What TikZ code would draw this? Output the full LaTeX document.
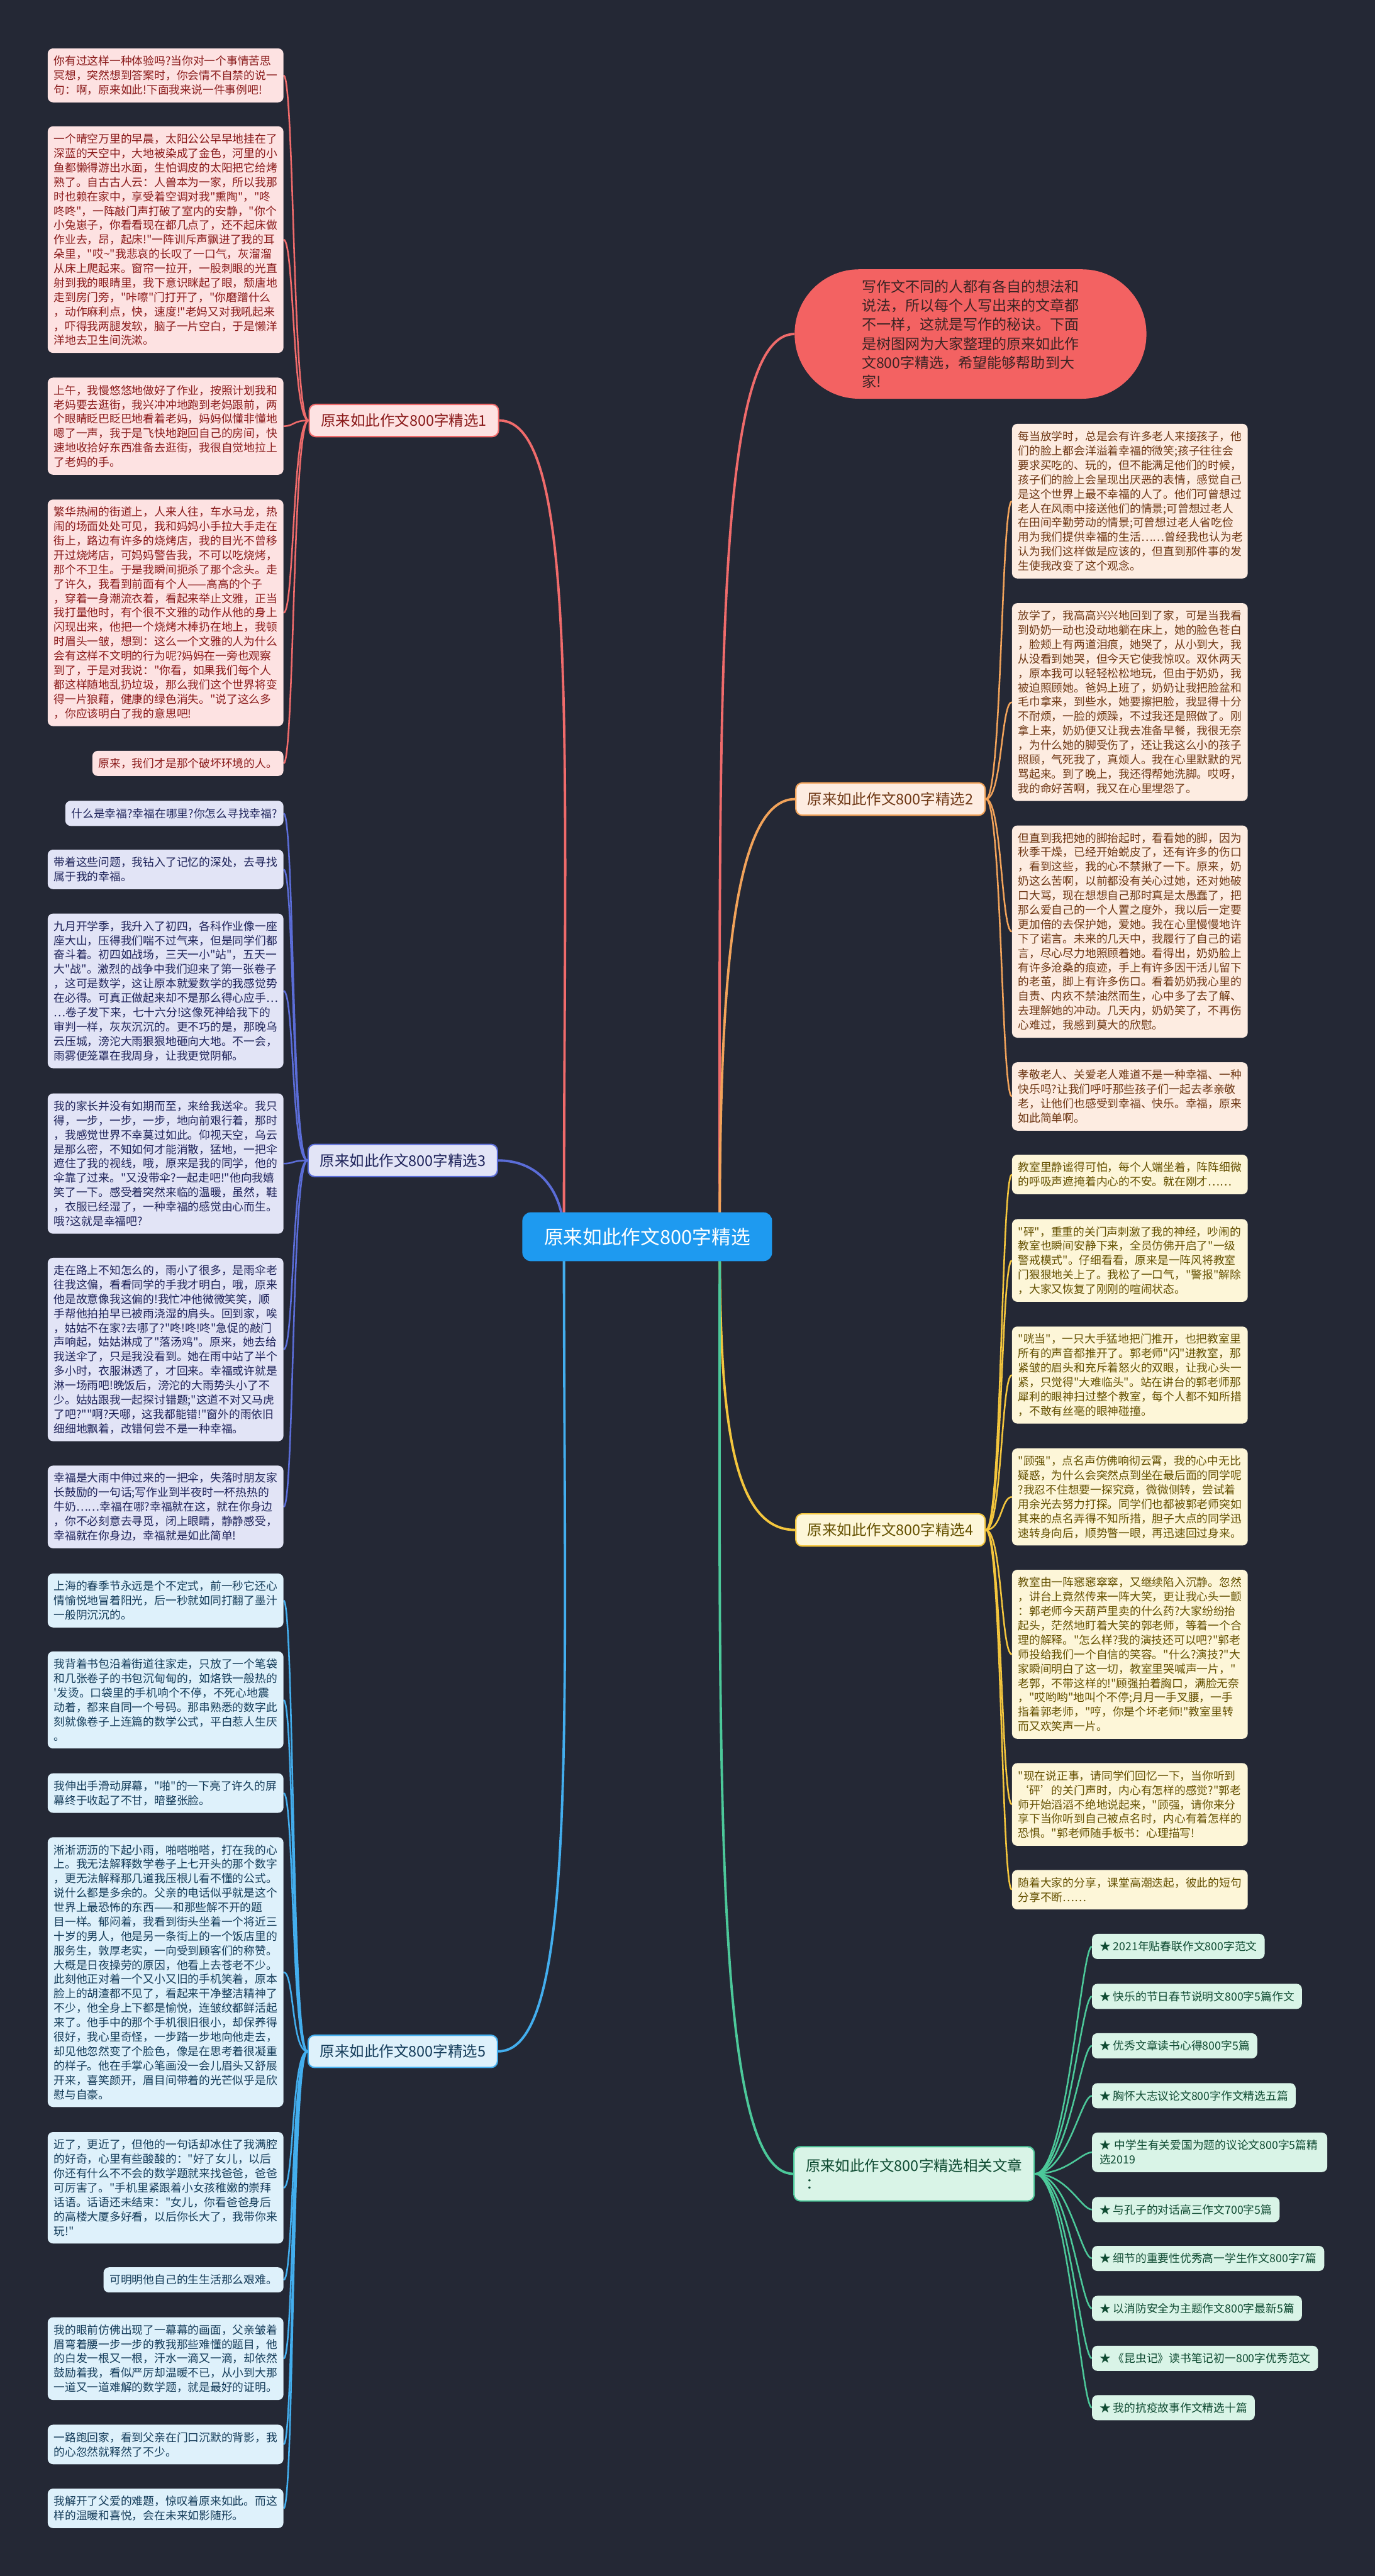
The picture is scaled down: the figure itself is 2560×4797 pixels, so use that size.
\documentclass[tikz,border=0pt]{standalone}
\usepackage{fontspec}
\setmainfont{Noto Sans CJK SC}[Ligatures=TeXOff]
\pgfdeclarelayer{bg}
\pgfdeclarelayer{edges}
\pgfsetlayers{bg,edges,main}
\newcommand\leaffont{\fontsize{20.8}{26.8}\selectfont}
\newcommand\brfont{\fontsize{27.5}{33}\selectfont}
\definecolor{bgc}{HTML}{242835}
\definecolor{ctrc}{HTML}{1E9AF0}
\definecolor{pillc}{HTML}{F36262}
\definecolor{pilltx}{HTML}{3C2424}
\definecolor{lnR}{HTML}{F06B6B}\definecolor{fR}{HTML}{FDE2E2}\definecolor{tR}{HTML}{8A1A1A}
\definecolor{lnO}{HTML}{F2A35A}\definecolor{fO}{HTML}{FDECE1}\definecolor{tO}{HTML}{6E3714}
\definecolor{lnI}{HTML}{5B6DD8}\definecolor{fI}{HTML}{E2E4F6}\definecolor{tI}{HTML}{1E235A}
\definecolor{lnY}{HTML}{F4C63D}\definecolor{fY}{HTML}{FDF6D8}\definecolor{tY}{HTML}{645000}
\definecolor{lnB}{HTML}{43AEEE}\definecolor{fB}{HTML}{DEF1FB}\definecolor{tB}{HTML}{143C5A}
\definecolor{lnG}{HTML}{4CC99A}\definecolor{fG}{HTML}{D9F4E7}\definecolor{tG}{HTML}{0F4B32}
\tikzset{
  lf/.style={rounded corners=10pt, inner xsep=11.5pt, inner ysep=0pt, align=left, font=\leaffont, minimum height={#1*26.8+20}},
  wide/.style={text width=416pt},
  cR/.style={fill=fR, text=tR}, cO/.style={fill=fO, text=tO}, cI/.style={fill=fI, text=tI},
  cY/.style={fill=fY, text=tY}, cB/.style={fill=fB, text=tB}, cG/.style={fill=fG, text=tG},
  conn/.style={line width=3pt},
  trunk/.style={line width=4.5pt},
  brnode/.style={rounded corners=12pt, line width=2.5pt, inner xsep=22pt, minimum height=60pt, font=\brfont},
  ln/.style={anchor=north east},
  rn/.style={anchor=north west},
}
\begin{document}
\begin{tikzpicture}[x=1pt,y=-1pt]
\useasboundingbox (0,0) rectangle (2560,4797);
\begin{pgfonlayer}{bg}
\fill[bgc] (0,0) rectangle (2560,4797);
\end{pgfonlayer}

% center and summary
\node[fill=ctrc, text=white, rounded corners=16pt, minimum width=465pt, minimum height=91pt, font=\fontsize{36}{42}\selectfont] (ctr) at (1205,2303) {原来如此作文800字精选};
\node[fill=pillc, text=pilltx, rounded corners=120pt, minimum width=655pt, minimum height=241pt, text width=405pt, align=left, font=\fontsize{27}{35.4}\selectfont] (pill) at (1807,622) {写作文不同的人都有各自的想法和\\说法，所以每个人写出来的文章都\\不一样，这就是写作的秘诀。下面\\是树图网为大家整理的原来如此作\\文800字精选，希望能够帮助到大\\家!};
\coordinate (cl) at (1050,2303);
\coordinate (cr) at (1340,2303);

% branch nodes
\node[brnode, draw=lnR, fill=fR, text=tR] (b1) at (752,783) {原来如此作文800字精选1};
\node[brnode, draw=lnO, fill=fO, text=tO] (b2) at (1658,1488) {原来如此作文800字精选2};
\node[brnode, draw=lnI, fill=fI, text=tI] (b3) at (750,2161) {原来如此作文800字精选3};
\node[brnode, draw=lnY, fill=fY, text=tY] (b4) at (1658,2849) {原来如此作文800字精选4};
\node[brnode, draw=lnB, fill=fB, text=tB] (b5) at (750,3820) {原来如此作文800字精选5};
\node[brnode, draw=lnG, fill=fG, text=tG, align=left, minimum height=101pt, anchor=west] (rel) at (1477,4048) {原来如此作文800字精选相关文章\\：};

% branch 1 leaves
\node[lf=3, wide, cR, ln] (A) at (528,90) {你有过这样一种体验吗?当你对一个事情苦思\\冥想，突然想到答案时，你会情不自禁的说一\\句：啊，原来如此!下面我来说一件事例吧!};
\node[lf=15, wide, cR, ln] (B) at (528,235) {一个晴空万里的早晨，太阳公公早早地挂在了\\深蓝的天空中，大地被染成了金色，河里的小\\鱼都懒得游出水面，生怕调皮的太阳把它给烤\\熟了。自古古人云：人兽本为一家，所以我那\\时也赖在家中，享受着空调对我"熏陶"，"咚\\咚咚"，一阵敲门声打破了室内的安静，"你个\\小兔崽子，你看看现在都几点了，还不起床做\\作业去，昂，起床!"一阵训斥声飘进了我的耳\\朵里，"哎\char`\~"我悲哀的长叹了一口气，灰溜溜\\从床上爬起来。窗帘一拉开，一股刺眼的光直\\射到我的眼睛里，我下意识眯起了眼，颓唐地\\走到房门旁，"咔嚓"门打开了，"你磨蹭什么\\，动作麻利点，快，速度!"老妈又对我吼起来\\，吓得我两腿发软，脑子一片空白，于是懒洋\\洋地去卫生间洗漱。};
\node[lf=6, wide, cR, ln] (C) at (528,703) {上午，我慢悠悠地做好了作业，按照计划我和\\老妈要去逛街，我兴冲冲地跑到老妈跟前，两\\个眼睛眨巴眨巴地看着老妈，妈妈似懂非懂地\\嗯了一声，我于是飞快地跑回自己的房间，快\\速地收拾好东西准备去逛街，我很自觉地拉上\\了老妈的手。};
\node[lf=15, wide, cR, ln] (D) at (528,930) {繁华热闹的街道上，人来人往，车水马龙，热\\闹的场面处处可见，我和妈妈小手拉大手走在\\街上，路边有许多的烧烤店，我的目光不曾移\\开过烧烤店，可妈妈警告我，不可以吃烧烤，\\那个不卫生。于是我瞬间扼杀了那个念头。走\\了许久，我看到前面有个人——高高的个子\\，穿着一身潮流衣着，看起来举止文雅，正当\\我打量他时，有个很不文雅的动作从他的身上\\闪现出来，他把一个烧烤木棒扔在地上，我顿\\时眉头一皱，想到：这么一个文雅的人为什么\\会有这样不文明的行为呢?妈妈在一旁也观察\\到了，于是对我说："你看，如果我们每个人\\都这样随地乱扔垃圾，那么我们这个世界将变\\得一片狼藉，健康的绿色消失。"说了这么多\\，你应该明白了我的意思吧!};
\node[lf=1, cR, ln] (E) at (528,1398) {原来，我们才是那个破坏环境的人。};

% branch 3 leaves
\node[lf=1, cI, ln] (F) at (528,1491) {什么是幸福?幸福在哪里?你怎么寻找幸福?};
\node[lf=2, wide, cI, ln] (G) at (528,1582) {带着这些问题，我钻入了记忆的深处，去寻找\\属于我的幸福。};
\node[lf=10, wide, cI, ln] (H) at (528,1701) {九月开学季，我升入了初四，各科作业像一座\\座大山，压得我们喘不过气来，但是同学们都\\奋斗着。初四如战场，三天一小"站"，五天一\\大"战"。激烈的战争中我们迎来了第一张卷子\\，这可是数学，这让原本就爱数学的我感觉势\\在必得。可真正做起来却不是那么得心应手…\\…卷子发下来，七十六分!这像死神给我下的\\审判一样，灰灰沉沉的。更不巧的是，那晚乌\\云压城，滂沱大雨狠狠地砸向大地。不一会，\\雨雾便笼罩在我周身，让我更觉阴郁。};
\node[lf=9, wide, cI, ln] (I) at (528,2036) {我的家长并没有如期而至，来给我送伞。我只\\得，一步，一步，一步，地向前艰行着，那时\\，我感觉世界不幸莫过如此。仰视天空，乌云\\是那么密，不知如何才能消散，猛地，一把伞\\遮住了我的视线，哦，原来是我的同学，他的\\伞靠了过来。"又没带伞?一起走吧!"他向我嬉\\笑了一下。感受着突然来临的温暖，虽然，鞋\\，衣服已经湿了，一种幸福的感觉由心而生。\\哦?这就是幸福吧?};
\node[lf=12, wide, cI, ln] (J) at (528,2342) {走在路上不知怎么的，雨小了很多，是雨伞老\\往我这偏，看看同学的手我才明白，哦，原来\\他是故意像我这偏的!我忙冲他微微笑笑，顺\\手帮他拍拍早已被雨浇湿的肩头。回到家，唉\\，姑姑不在家?去哪了?"咚!咚!咚"急促的敲门\\声响起，姑姑淋成了"落汤鸡"。原来，她去给\\我送伞了，只是我没看到。她在雨中站了半个\\多小时，衣服淋透了，才回来。幸福或许就是\\淋一场雨吧!晚饭后，滂沱的大雨势头小了不\\少。姑姑跟我一起探讨错题;"这道不对又马虎\\了吧?""啊?天哪，这我都能错!"窗外的雨依旧\\细细地飘着，改错何尝不是一种幸福。};
\node[lf=5, wide, cI, ln] (K) at (528,2729) {幸福是大雨中伸过来的一把伞，失落时朋友家\\长鼓励的一句话;写作业到半夜时一杯热热的\\牛奶……幸福在哪?幸福就在这，就在你身边\\，你不必刻意去寻觅，闭上眼睛，静静感受，\\幸福就在你身边，幸福就是如此简单!};

% branch 5 leaves
\node[lf=3, wide, cB, ln] (L) at (528,2930) {上海的春季节永远是个不定式，前一秒它还心\\情愉悦地冒着阳光，后一秒就如同打翻了墨汁\\一般阴沉沉的。};
\node[lf=6, wide, cB, ln] (M) at (528,3075) {我背着书包沿着街道往家走，只放了一个笔袋\\和几张卷子的书包沉甸甸的，如烙铁一般热的\\'发烫。口袋里的手机响个不停，不死心地震\\动着，都来自同一个号码。那串熟悉的数字此\\刻就像卷子上连篇的数学公式，平白惹人生厌\\。};
\node[lf=2, wide, cB, ln] (N) at (528,3302) {我伸出手滑动屏幕，"啪"的一下亮了许久的屏\\幕终于收起了不甘，暗整张脸。};
\node[lf=18, wide, cB, ln] (O) at (528,3421) {淅淅沥沥的下起小雨，啪嗒啪嗒，打在我的心\\上。我无法解释数学卷子上七开头的那个数字\\，更无法解释那几道我压根儿看不懂的公式。\\说什么都是多余的。父亲的电话似乎就是这个\\世界上最恐怖的东西——和那些解不开的题\\目一样。郁闷着，我看到街头坐着一个将近三\\十岁的男人，他是另一条街上的一个饭店里的\\服务生，敦厚老实，一向受到顾客们的称赞。\\大概是日夜操劳的原因，他看上去苍老不少。\\此刻他正对着一个又小又旧的手机笑着，原本\\脸上的胡渣都不见了，看起来干净整洁精神了\\不少，他全身上下都是愉悦，连皱纹都鲜活起\\来了。他手中的那个手机很旧很小，却保养得\\很好，我心里奇怪，一步踏一步地向他走去，\\却见他忽然变了个脸色，像是在思考着很凝重\\的样子。他在手掌心笔画没一会儿眉头又舒展\\开来，喜笑颜开，眉目间带着的光芒似乎是欣\\慰与自豪。};
\node[lf=7, wide, cB, ln] (P) at (528,3970) {近了，更近了，但他的一句话却冰住了我满腔\\的好奇，心里有些酸酸的："好了女儿，以后\\你还有什么不不会的数学题就来找爸爸，爸爸\\可厉害了。"手机里紧跟着小女孩稚嫩的崇拜\\话语。话语还未结束："女儿，你看爸爸身后\\的高楼大厦多好看，以后你长大了，我带你来\\玩!"};
\node[lf=1, cB, ln] (Q) at (528,4222) {可明明他自己的生生活那么艰难。};
\node[lf=5, wide, cB, ln] (R) at (528,4315) {我的眼前仿佛出现了一幕幕的画面，父亲皱着\\眉弯着腰一步一步的教我那些难懂的题目，他\\的白发一根又一根，汗水一滴又一滴，却依然\\鼓励着我，看似严厉却温暖不已，从小到大那\\一道又一道难解的数学题，就是最好的证明。};
\node[lf=2, wide, cB, ln] (S) at (528,4515) {一路跑回家，看到父亲在门口沉默的背影，我\\的心忽然就释然了不少。};
\node[lf=2, wide, cB, ln] (T) at (528,4634) {我解开了父爱的难题，惊叹着原来如此。而这\\样的温暖和喜悦，会在未来如影随形。};

% branch 2 leaves
\node[lf=10, wide, cO, rn] (o1) at (1884,789) {每当放学时，总是会有许多老人来接孩子，他\\们的脸上都会洋溢着幸福的微笑;孩子往往会\\要求买吃的、玩的，但不能满足他们的时候，\\孩子们的脸上会呈现出厌恶的表情，感觉自己\\是这个世界上最不幸福的人了。他们可曾想过\\老人在风雨中接送他们的情景;可曾想过老人\\在田间辛勤劳动的情景;可曾想过老人省吃俭\\用为我们提供幸福的生活……曾经我也认为老\\认为我们这样做是应该的，但直到那件事的发\\生使我改变了这个观念。};
\node[lf=13, wide, cO, rn] (o2) at (1884,1123) {放学了，我高高兴兴地回到了家，可是当我看\\到奶奶一动也没动地躺在床上，她的脸色苍白\\，脸颊上有两道泪痕，她哭了，从小到大，我\\从没看到她哭，但今天它使我惊叹。双休两天\\，原本我可以轻轻松松地玩，但由于奶奶，我\\被迫照顾她。爸妈上班了，奶奶让我把脸盆和\\毛巾拿来，到些水，她要擦把脸，我显得十分\\不耐烦，一脸的烦躁，不过我还是照做了。刚\\拿上来，奶奶便又让我去准备早餐，我很无奈\\，为什么她的脚受伤了，还让我这么小的孩子\\照顾，气死我了，真烦人。我在心里默默的咒\\骂起来。到了晚上，我还得帮她洗脚。哎呀，\\我的命好苦啊，我又在心里埋怨了。};
\node[lf=14, wide, cO, rn] (o3) at (1884,1537) {但直到我把她的脚抬起时，看看她的脚，因为\\秋季干燥，已经开始蜕皮了，还有许多的伤口\\，看到这些，我的心不禁揪了一下。原来，奶\\奶这么苦啊，以前都没有关心过她，还对她破\\口大骂，现在想想自己那时真是太愚蠢了，把\\那么爱自己的一个人置之度外，我以后一定要\\更加倍的去保护她，爱她。我在心里慢慢地许\\下了诺言。未来的几天中，我履行了自己的诺\\言，尽心尽力地照顾着她。看得出，奶奶脸上\\有许多沧桑的痕迹，手上有许多因干活儿留下\\的老茧，脚上有许多伤口。看着奶奶我心里的\\自责、内疚不禁油然而生，心中多了去了解、\\去理解她的冲动。几天内，奶奶笑了，不再伤\\心难过，我感到莫大的欣慰。};
\node[lf=4, wide, cO, rn] (o4) at (1884,1978) {孝敬老人、关爱老人难道不是一种幸福、一种\\快乐吗?让我们呼吁那些孩子们一起去孝亲敬\\老，让他们也感受到幸福、快乐。幸福，原来\\如此简单啊。};

% branch 4 leaves
\node[lf=2, wide, cY, rn] (y1) at (1884,2150) {教室里静谧得可怕，每个人端坐着，阵阵细微\\的呼吸声遮掩着内心的不安。就在刚才……};
\node[lf=5, wide, cY, rn] (y2) at (1884,2270) {"砰"，重重的关门声刺激了我的神经，吵闹的\\教室也瞬间安静下来，全员仿佛开启了"一级\\警戒模式"。仔细看看，原来是一阵风将教室\\门狠狠地关上了。我松了一口气，"警报"解除\\，大家又恢复了刚刚的喧闹状态。};
\node[lf=6, wide, cY, rn] (y3) at (1884,2470) {"咣当"，一只大手猛地把门推开，也把教室里\\所有的声音都推开了。郭老师"闪"进教室，那\\紧皱的眉头和充斥着怒火的双眼，让我心头一\\紧，只觉得"大难临头"。站在讲台的郭老师那\\犀利的眼神扫过整个教室，每个人都不知所措\\，不敢有丝毫的眼神碰撞。};
\node[lf=6, wide, cY, rn] (y4) at (1884,2697) {"顾强"，点名声仿佛响彻云霄，我的心中无比\\疑惑，为什么会突然点到坐在最后面的同学呢\\?我忍不住想要一探究竟，微微侧转，尝试着\\用余光去努力打探。同学们也都被郭老师突如\\其来的点名弄得不知所措，胆子大点的同学迅\\速转身向后，顺势瞥一眼，再迅速回过身来。};
\node[lf=11, wide, cY, rn] (y5) at (1884,2923) {教室由一阵窸窸窣窣，又继续陷入沉静。忽然\\，讲台上竟然传来一阵大笑，更让我心头一颤\\：郭老师今天葫芦里卖的什么药?大家纷纷抬\\起头，茫然地盯着大笑的郭老师，等着一个合\\理的解释。"怎么样?我的演技还可以吧?"郭老\\师投给我们一个自信的笑容。"什么?演技?"大\\家瞬间明白了这一切，教室里哭喊声一片，"\\老郭，不带这样的!"顾强拍着胸口，满脸无奈\\，"哎哟哟"地叫个不停;月月一手叉腰，一手\\指着郭老师，"哼，你是个坏老师!"教室里转\\而又欢笑声一片。};
\node[lf=5, wide, cY, rn] (y6) at (1884,3283) {"现在说正事，请同学们回忆一下，当你听到\\‘砰’的关门声时，内心有怎样的感觉?"郭老\\师开始滔滔不绝地说起来，"顾强，请你来分\\享下当你听到自己被点名时，内心有着怎样的\\恐惧。"郭老师随手板书：心理描写!};
\node[lf=2, wide, cY, rn] (y7) at (1884,3482) {随着大家的分享，课堂高潮迭起，彼此的短句\\分享不断……};

% related
\node[lf=1, cG, rn, inner xsep=14pt] (g1) at (2033,3601) {★ 2021年贴春联作文800字范文};
\node[lf=1, cG, rn, inner xsep=14pt] (g2) at (2033,3694) {★ 快乐的节日春节说明文800字5篇作文};
\node[lf=1, cG, rn, inner xsep=14pt] (g3) at (2033,3786) {★ 优秀文章读书心得800字5篇};
\node[lf=1, cG, rn, inner xsep=14pt] (g4) at (2033,3879) {★ 胸怀大志议论文800字作文精选五篇};
\node[lf=2, cG, rn, inner xsep=14pt, text width=410pt] (g5) at (2033,3971) {★ 中学生有关爱国为题的议论文800字5篇精\\选2019};
\node[lf=1, cG, rn, inner xsep=14pt] (g6) at (2033,4091) {★ 与孔子的对话高三作文700字5篇};
\node[lf=1, cG, rn, inner xsep=14pt] (g7) at (2033,4182) {★ 细节的重要性优秀高一学生作文800字7篇};
\node[lf=1, cG, rn, inner xsep=14pt] (g8) at (2033,4275) {★ 以消防安全为主题作文800字最新5篇};
\node[lf=1, cG, rn, inner xsep=14pt] (g9) at (2033,4368) {★ 《昆虫记》读书笔记初一800字优秀范文};
\node[lf=1, cG, rn, inner xsep=14pt] (g10) at (2033,4460) {★ 我的抗疫故事作文精选十篇};

\begin{pgfonlayer}{edges}
\draw[trunk, draw=lnR] (cr) .. controls +(0,-1000) and +(-150,0) .. (pill.west);
\draw[trunk, draw=lnR] (cl) .. controls +(0,-900) and +(150,0) .. (b1.east);
\draw[trunk, draw=lnO] (cr) .. controls +(0,-450) and +(-120,0) .. (b2.west);
\draw[trunk, draw=lnI] (cl) .. controls +(0,-80) and +(80,0) .. (b3.east);
\draw[trunk, draw=lnY] (cr) .. controls +(0,330) and +(-120,0) .. (b4.west);
\draw[trunk, draw=lnB] (cl) .. controls +(0,900) and +(150,0) .. (b5.east);
\draw[trunk, draw=lnG] (cr) .. controls +(0,1000) and +(-150,0) .. (rel.west);
\foreach \n in {A,B,C,D,E}{\draw[conn, draw=lnR] (b1.west) .. controls +(-30,0) and +(20,0) .. (\n.east);}
\foreach \n in {F,G,H,I,J,K}{\draw[conn, draw=lnI] (b3.west) .. controls +(-30,0) and +(20,0) .. (\n.east);}
\foreach \n in {L,M,N,O,P,Q,R,S,T}{\draw[conn, draw=lnB] (b5.west) .. controls +(-30,0) and +(20,0) .. (\n.east);}
\foreach \n in {o1,o2,o3,o4}{\draw[conn, draw=lnO] (b2.east) .. controls +(30,0) and +(-20,0) .. (\n.west);}
\foreach \n in {y1,y2,y3,y4,y5,y6,y7}{\draw[conn, draw=lnY] (b4.east) .. controls +(30,0) and +(-20,0) .. (\n.west);}
\foreach \n in {g1,g2,g3,g4,g5,g6,g7,g8,g9,g10}{\draw[conn, draw=lnG] (rel.east) .. controls +(60,0) and +(-20,0) .. (\n.west);}
\end{pgfonlayer}
\end{tikzpicture}
\end{document}
